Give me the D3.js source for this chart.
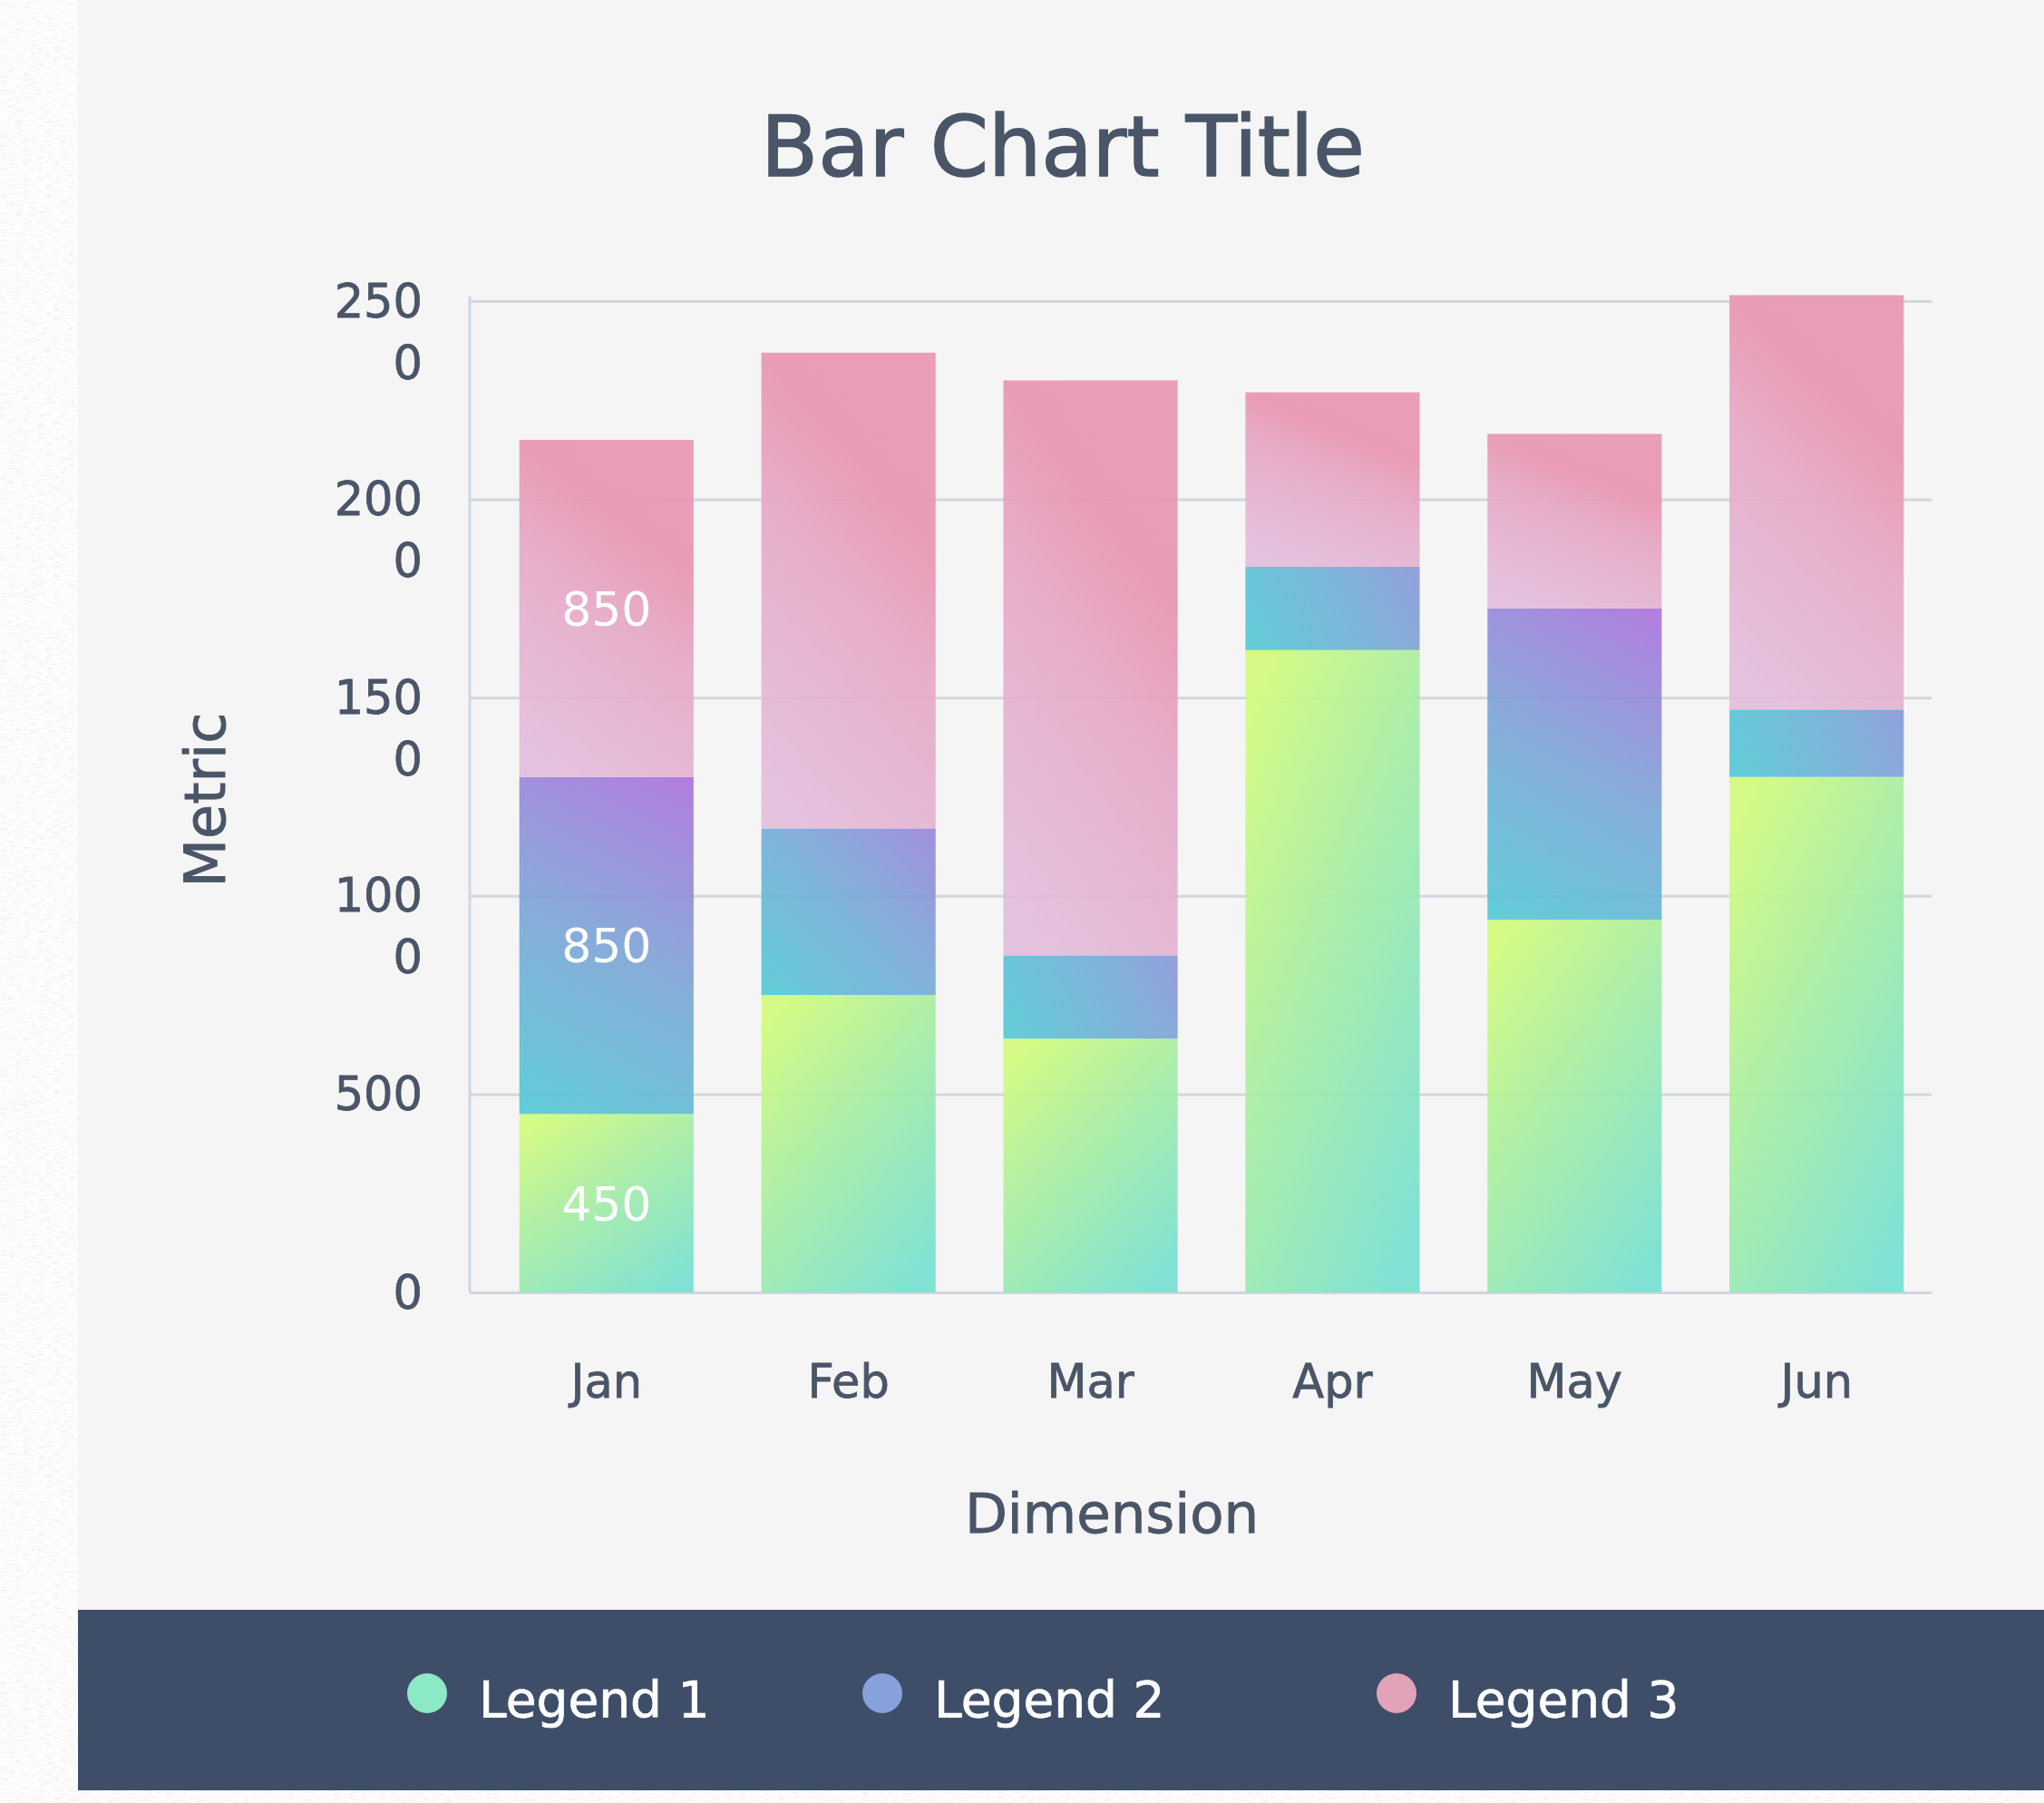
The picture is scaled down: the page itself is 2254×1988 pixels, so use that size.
<!DOCTYPE html>
<html lang="en">
<head>
<meta charset="utf-8">
<title>Bar Chart Title</title>
<script src="https://cdn.jsdelivr.net/npm/d3@7"></script>
<style>
  body { margin: 0; background: #f6f6f6; }
  svg { display: block; font-family: "DejaVu Sans", sans-serif; }
</style>
</head>
<body>
<div id="chart"></div>
<script>
// chart values
var months = ["Jan", "Feb", "Mar", "Apr", "May", "Jun"];
var seriesNames = ["Legend 1", "Legend 2", "Legend 3"];
var legend1Values = [450, 750, 640, 1620, 940, 1300];
var legend2Values = [850, 420, 210, 210, 785, 170];
var legend3Values = [850, 1200, 1450, 440, 440, 1045];
var yTickValues = [0, 500, 1000, 1500, 2000, 2500];
var labelledMonths = ["Jan"];   // only Jan carries value labels
var legendColors = ["#8be9c5", "#86a1dc", "#e2a3b8"];

// gradient stops per series
var greenStops = [[0, "#d2fb7c"], [0.45, "#a6eda4"], [1, "#76e0d2"]];
var blueStops = [[0, "#55cad6"], [0.5, "#7ea6d7"], [1, "#ad72de"]];
var pinkStops = [[0, "#e3bddb"], [0.5, "#e6a8c6"], [0.75, "#e895b0"], [1, "#e996b1"]];

var Vis = {};
Vis.width = 2254;
Vis.height = 1988;
Vis.card = {x: 86, y: 0, w: 2168, h: 1974};
Vis.plot = {left: 518, right: 2130, top: 332, bottom: 1425};
Vis.textColor = "#4a5568";
Vis.gridColor = "#d2d6de";

// table for the stack
var table = months.map(function(m, i) {
  return {month: m, "Legend 1": legend1Values[i], "Legend 2": legend2Values[i], "Legend 3": legend3Values[i]};
});
var stacked = d3.stack().keys(seriesNames)(table);

Vis.svg = d3.select("#chart")
  .append("svg")
  .attr("width", Vis.width)
  .attr("height", Vis.height);

var defs = Vis.svg.append("defs");

// paper-like texture for the outer background
var noise = defs.append("filter")
  .attr("id", "noise")
  .attr("x", 0).attr("y", 0).attr("width", "100%").attr("height", "100%");
noise.append("feTurbulence")
  .attr("type", "fractalNoise")
  .attr("baseFrequency", "0.12 0.9")
  .attr("numOctaves", 2)
  .attr("seed", 4);
noise.append("feColorMatrix")
  .attr("type", "matrix")
  .attr("values", "0.3 0 0 0 0.82  0.3 0 0 0 0.82  0.3 0 0 0 0.82  0 0 0 0 1");

function addStops(g, stops) {
  g.selectAll("stop")
    .data(stops)
    .enter()
    .append("stop")
    .attr("offset", s => s[0])
    .attr("stop-color", s => s[1]);
}

var gGreen = defs.append("linearGradient")
  .attr("id", "gradGreen")
  .attr("x1", 0.15).attr("y1", 0).attr("x2", 0.85).attr("y2", 1);
addStops(gGreen, greenStops);

var gPink = defs.append("linearGradient")
  .attr("id", "gradPink")
  .attr("x1", 0.3).attr("y1", 1).attr("x2", 0.7).attr("y2", 0);
addStops(gPink, pinkStops);

// background + card
Vis.svg.append("rect")
  .attr("width", Vis.width)
  .attr("height", Vis.height)
  .attr("filter", "url(#noise)");

Vis.svg.append("rect")
  .attr("x", Vis.card.x)
  .attr("y", Vis.card.y)
  .attr("width", Vis.card.w)
  .attr("height", Vis.card.h)
  .attr("fill", "#f5f5f5");

// scales
Vis.xScale = d3.scaleBand()
  .domain(months)
  .range([546, 2126])
  .paddingInner(0.28)
  .paddingOuter(0.1);

Vis.yScale = d3.scaleLinear()
  .domain([0, 2500])
  .range([Vis.plot.bottom, Vis.plot.top]);

// title
Vis.svg.append("text")
  .attr("x", 1172)
  .attr("y", 194)
  .attr("text-anchor", "middle")
  .attr("font-size", 92)
  .attr("fill", Vis.textColor)
  .attr("stroke", Vis.textColor)
  .attr("stroke-width", 1.6)
  .text("Bar Chart Title");

// y axis with gridlines
Vis.yAxis = d3.axisLeft(Vis.yScale)
  .tickValues(yTickValues)
  .tickSize(-(Vis.plot.right - Vis.plot.left))
  .tickPadding(52)
  .tickFormat(d3.format("d"));

var yG = Vis.svg.append("g")
  .attr("transform", "translate(" + Vis.plot.left + ",0)")
  .call(Vis.yAxis);

yG.select(".domain").remove();
yG.selectAll(".tick line")
  .attr("stroke", Vis.gridColor)
  .attr("stroke-width", 3);

// long labels wrap after three characters
yG.selectAll(".tick text")
  .attr("font-size", 51)
  .attr("font-family", "DejaVu Sans")
  .attr("fill", Vis.textColor)
  .attr("stroke", Vis.textColor)
  .attr("stroke-width", 0.8)
  .attr("dy", null)
  .each(function(d) {
    var t = d3.select(this);
    var parts = String(d).match(/.{1,3}/g);
    var x = t.attr("x");
    t.text(null);
    parts.forEach(function(p, i) {
      t.append("tspan")
        .attr("x", x)
        .attr("dy", i == 0 ? 17 : 68)
        .text(p);
    });
  });

// axis line
Vis.svg.append("line")
  .attr("x1", Vis.plot.left)
  .attr("x2", Vis.plot.left)
  .attr("y1", Vis.plot.top - 6)
  .attr("y2", Vis.plot.bottom)
  .attr("stroke", Vis.gridColor)
  .attr("stroke-width", 3);

// x axis labels
Vis.xAxis = d3.axisBottom(Vis.xScale)
  .tickSize(0)
  .tickPadding(80);

var xG = Vis.svg.append("g")
  .attr("transform", "translate(0," + Vis.plot.bottom + ")")
  .call(Vis.xAxis);
xG.select(".domain").remove();
xG.selectAll(".tick text")
  .attr("font-size", 51)
  .attr("font-family", "DejaVu Sans")
  .attr("fill", Vis.textColor)
  .attr("stroke", Vis.textColor)
  .attr("stroke-width", 0.8)
  .attr("dy", 0)
  .attr("y", 116);

// segment geometry from the stack
var segments = [];
stacked.forEach(function(layer, s) {
  layer.forEach(function(d) {
    var x = Vis.xScale(d.data.month);
    var y = Vis.yScale(d[1]);
    segments.push({
      series: s, month: d.data.month, v0: d[0], v1: d[1],
      x: x, y: y, w: Vis.xScale.bandwidth(), h: Vis.yScale(d[0]) - y
    });
  });
});

// blue segments: gradient from the lower-left corner with a fixed length,
// so short segments stop around periwinkle and tall ones reach purple
var blueLen = 330;
defs.selectAll("linearGradient.blue")
  .data(segments.filter(d => d.series == 1))
  .enter()
  .append("linearGradient")
  .attr("class", "blue")
  .attr("id", d => "blue-" + d.month)
  .attr("gradientUnits", "userSpaceOnUse")
  .each(function(d) {
    var n = Math.sqrt(d.w * d.w + d.h * d.h);
    var L = Math.max(n, blueLen) / n;
    var g = d3.select(this)
      .attr("x1", d.x).attr("y1", d.y + d.h)
      .attr("x2", d.x + d.w * L).attr("y2", d.y + d.h - d.h * L);
    addStops(g, blueStops);
  });

function segFill(d) {
  if (d.series == 0) return "url(#gradGreen)";
  if (d.series == 1) return "url(#blue-" + d.month + ")";
  return "url(#gradPink)";
}

// stacked bars
Vis.bars = Vis.svg.append("g")
  .selectAll("rect")
  .data(segments)
  .enter()
  .append("rect")
  .attr("x", d => d.x)
  .attr("width", d => d.w)
  .attr("y", d => d.y)
  .attr("height", d => d.h)
  .attr("fill", segFill)
  .attr("fill-opacity", 0.92);

// value labels
Vis.svg.append("g")
  .selectAll("text")
  .data(segments.filter(d => labelledMonths.indexOf(d.month) >= 0))
  .enter()
  .append("text")
  .attr("x", d => d.x + d.w / 2)
  .attr("y", d => d.y + d.h / 2 + 19)
  .attr("text-anchor", "middle")
  .attr("font-size", 52)
  .attr("fill", "#ffffff")
  .text(d => d.v1 - d.v0);

// axis titles
Vis.svg.append("text")
  .attr("x", 1226)
  .attr("y", 1690)
  .attr("text-anchor", "middle")
  .attr("font-size", 61)
  .attr("fill", Vis.textColor)
  .attr("stroke", Vis.textColor)
  .attr("stroke-width", 0.9)
  .text("Dimension");

Vis.svg.append("text")
  .attr("transform", "translate(248,882) rotate(-90)")
  .attr("text-anchor", "middle")
  .attr("font-size", 62)
  .attr("fill", Vis.textColor)
  .attr("stroke", Vis.textColor)
  .attr("stroke-width", 0.9)
  .text("Metric");

// legend band
Vis.svg.append("rect")
  .attr("x", Vis.card.x)
  .attr("y", 1775)
  .attr("width", Vis.card.w)
  .attr("height", 199)
  .attr("fill", "#3e4e68");

var legendX = [471, 973, 1540];
var legendItems = Vis.svg.selectAll("g.legend")
  .data(seriesNames)
  .enter()
  .append("g")
  .attr("class", "legend")
  .attr("transform", (d, i) => "translate(" + legendX[i] + ",1867)");

legendItems.append("circle")
  .attr("r", 22)
  .attr("fill", (d, i) => legendColors[i]);

legendItems.append("text")
  .attr("x", 57)
  .attr("y", 26)
  .attr("font-size", 55)
  .attr("fill", "#ffffff")
  .attr("stroke", "#ffffff")
  .attr("stroke-width", 0.7)
  .text(d => d);
</script>
</body>
</html>
